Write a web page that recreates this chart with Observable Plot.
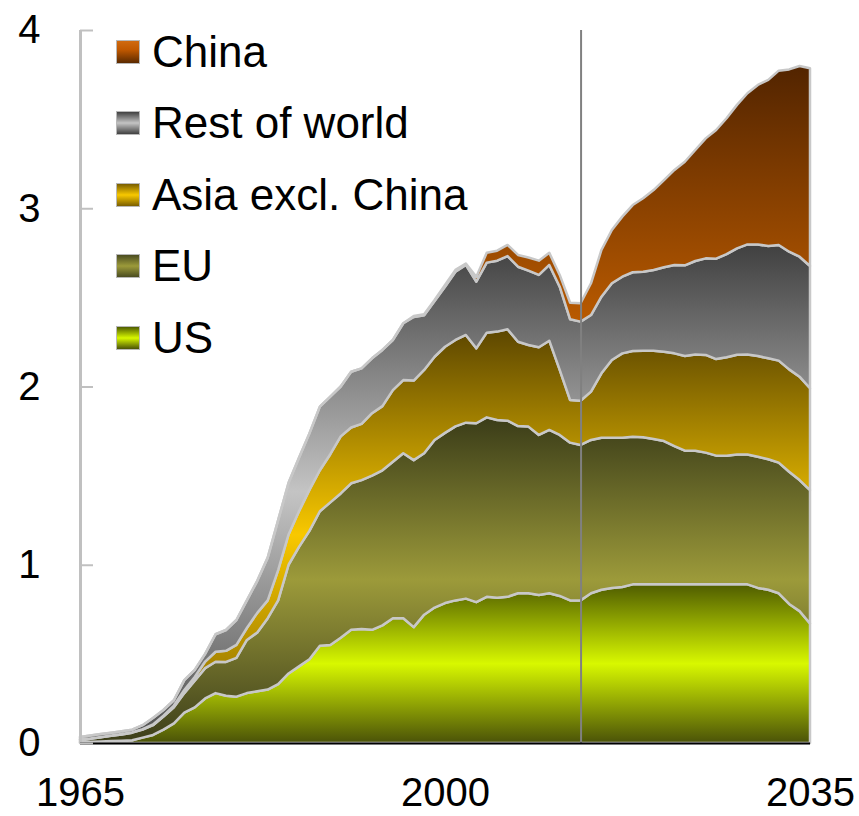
<!DOCTYPE html>
<html>
<head>
<meta charset="utf-8">
<script src="https://cdn.jsdelivr.net/npm/d3@7"></script>
<script src="https://cdn.jsdelivr.net/npm/@observablehq/plot@0.6"></script>
<style>
  html, body { margin: 0; padding: 0; background: #fff; }
  #wrap { position: relative; width: 859px; height: 816px; font-family: "Liberation Sans", Arial, sans-serif; }
  #legend { position: absolute; left: 116px; top: 16px; }
  .item { display: flex; align-items: center; height: 71.5px; font-size: 44px; color: #000; }
  .sw { width: 22px; height: 22px; border: 1px solid #b8b8b8; margin-right: 12px; flex: none; }
</style>
</head>
<body>
<div id="wrap"><div id="legend"></div></div>
<script>
// ---- data ----
const years = d3.range(1965, 2036);
const seriesNames = ["US", "EU", "Asia excl. China", "Rest of world", "China"];
const usValues = [
  0.005, 0.007, 0.009, 0.011, 0.013,
  0.015, 0.03, 0.045, 0.075, 0.11,
  0.17, 0.20, 0.25, 0.28, 0.265,
  0.26, 0.28, 0.29, 0.30, 0.33,
  0.39, 0.43, 0.47, 0.545, 0.55,
  0.59, 0.635, 0.64, 0.635, 0.66,
  0.70, 0.70, 0.65, 0.72, 0.76,
  0.785, 0.80, 0.81, 0.79, 0.82,
  0.815, 0.82, 0.84, 0.84, 0.83,
  0.84, 0.825, 0.80, 0.80, 0.84,
  0.86, 0.87, 0.875, 0.89, 0.89,
  0.89, 0.89, 0.89, 0.89, 0.89,
  0.89, 0.89, 0.89, 0.89, 0.89,
  0.87, 0.86, 0.84, 0.78, 0.74,
  0.67
];
const euValues = [
  0.012, 0.017, 0.023, 0.029, 0.035,
  0.043, 0.045, 0.055, 0.073, 0.09,
  0.11, 0.15, 0.17, 0.176, 0.19,
  0.218, 0.298, 0.33, 0.40, 0.47,
  0.61, 0.67, 0.72, 0.755, 0.80,
  0.81, 0.822, 0.835, 0.865, 0.87,
  0.878, 0.926, 0.937, 0.906, 0.94,
  0.955, 0.976, 0.987, 1.004, 1.007,
  0.997, 0.988, 0.938, 0.935, 0.898,
  0.916, 0.903, 0.885, 0.872, 0.86,
  0.853, 0.843, 0.838, 0.828, 0.825,
  0.815, 0.804, 0.776, 0.75, 0.75,
  0.739, 0.722, 0.722, 0.729, 0.729,
  0.736, 0.732, 0.733, 0.742, 0.735,
  0.749
];
const asiaValues = [
  0.002, 0.002, 0.002, 0.002, 0.002,
  0.003, 0.003, 0.004, 0.005, 0.01,
  0.017, 0.02, 0.037, 0.056, 0.062,
  0.072, 0.067, 0.11, 0.10, 0.17,
  0.17, 0.20, 0.23, 0.23, 0.27,
  0.32, 0.313, 0.315, 0.35, 0.36,
  0.402, 0.41, 0.446, 0.467, 0.467,
  0.483, 0.485, 0.492, 0.42, 0.475,
  0.496, 0.513, 0.473, 0.458, 0.492,
  0.501, 0.365, 0.239, 0.248, 0.271,
  0.361, 0.436, 0.473, 0.481, 0.486,
  0.496, 0.501, 0.52, 0.531, 0.54,
  0.548, 0.542, 0.552, 0.559, 0.561,
  0.565, 0.566, 0.572, 0.574, 0.58,
  0.571
];
const rowValues = [
  0.015, 0.016, 0.016, 0.016, 0.016,
  0.014, 0.022, 0.036, 0.032, 0.03,
  0.056, 0.04, 0.043, 0.098, 0.117,
  0.14, 0.155, 0.18, 0.24, 0.28,
  0.29, 0.30, 0.317, 0.357, 0.323,
  0.28, 0.313, 0.312, 0.308, 0.315,
  0.281, 0.319, 0.357, 0.307, 0.313,
  0.337, 0.383, 0.393, 0.374, 0.393,
  0.398, 0.411, 0.421, 0.417, 0.406,
  0.425, 0.467, 0.453, 0.444, 0.43,
  0.43, 0.43, 0.43, 0.442, 0.443,
  0.453, 0.474, 0.496, 0.509, 0.524,
  0.542, 0.563, 0.579, 0.597, 0.617,
  0.626, 0.63, 0.649, 0.66, 0.673,
  0.686
];
const chinaValues = [
  0, 0, 0, 0, 0,
  0, 0, 0, 0, 0,
  0, 0, 0, 0, 0,
  0, 0, 0, 0, 0,
  0, 0, 0, 0, 0,
  0, 0, 0, 0, 0,
  0, 0, 0.006, 0.005, 0.005,
  0.01, 0.01, 0.008, 0.027, 0.055,
  0.056, 0.062, 0.066, 0.074, 0.08,
  0.068, 0.066, 0.093, 0.103, 0.178,
  0.262, 0.299, 0.337, 0.377, 0.412,
  0.448, 0.489, 0.533, 0.581, 0.623,
  0.673, 0.722, 0.762, 0.805, 0.848,
  0.895, 0.932, 0.978, 1.023, 1.07,
  1.109
];
const forecastStart = 2013;
const xTicks = [1965, 2000, 2035];
const yTicks = [0, 1, 2, 3, 4];

// ---- styles ----
const gradientIds = ["gUS", "gEU", "gAsia", "gRoW", "gChina"];
const gradientStops = [
  [[0, "#4f5c00"], [0.5, "#d8f800"], [1, "#4a5208"]],
  [[0, "#3a3c18"], [0.5, "#9c9a3a"], [1, "#3c3e1a"]],
  [[0, "#5c4600"], [0.5, "#f8c800"], [1, "#7a5e00"]],
  [[0, "#404040"], [0.5, "#c4c4c4"], [1, "#505050"]],
  [[0, "#522400"], [0.45, "#cc6400"], [1, "#6a3000"]]
];
const legendSwatch = [
  "linear-gradient(to bottom, #4f5c00, #d8f800 50%, #4a5208)",
  "linear-gradient(to bottom, #4a4c20, #9c9a3a 50%, #4a4c20)",
  "linear-gradient(to bottom, #7a5e00, #f8c800 50%, #7a5e00)",
  "linear-gradient(to bottom, #404040, #c4c4c4 50%, #404040)",
  "linear-gradient(to bottom, #d06a10, #c05800 40%, #5a2a00)"
];

const seriesValues = [usValues, euValues, asiaValues, rowValues, chinaValues];
const table = [];
seriesNames.forEach((name, i) => years.forEach((year, j) => table.push({year, series: name, value: seriesValues[i][j]})));

const plot = Plot.plot({
  width: 859,
  height: 816,
  marginLeft: 80,
  marginRight: 49,
  marginTop: 30,
  marginBottom: 73,
  x: {domain: [1965, 2035], label: null},
  y: {domain: [0, 4], label: null},
  color: {domain: seriesNames, range: gradientIds.map(id => `url(#${id})`)},
  style: {fontFamily: "'Liberation Sans', Arial, sans-serif", background: "#fff", color: "#000"},
  marks: [
    Plot.areaY(table, Plot.stackY({
      x: "year", y: "value", z: "series", fill: "series",
      stroke: "#c8c8c8", strokeWidth: 2.5, strokeLinejoin: "round"
    })),
    Plot.ruleX([forecastStart], {stroke: "#808080", strokeWidth: 2}),
    Plot.ruleX([years[0]], {stroke: "#c0c0c0", strokeWidth: 3}),
    Plot.ruleY([0], {stroke: "#000", strokeWidth: 2}),
    Plot.axisY({ticks: yTicks, label: null, tickSize: 13, dx: 13, tickPadding: 40, stroke: "#c0c0c0", strokeWidth: 2, fill: "#000", fontSize: 40, tickFormat: d => String(d)}),
    Plot.axisX({ticks: xTicks, label: null, tickSize: 0, tickPadding: 34, fill: "#000", fontSize: 40, tickFormat: d => String(d)})
  ]
});

const defs = d3.select(plot).insert("defs", ":first-child");
gradientIds.forEach((id, i) => {
  const lg = defs.append("linearGradient").attr("id", id).attr("x1", 0).attr("y1", 0).attr("x2", 0).attr("y2", 1);
  gradientStops[i].forEach(([o, c]) => lg.append("stop").attr("offset", o).attr("stop-color", c));
});

const wrap = document.getElementById("wrap");
wrap.insertBefore(plot, wrap.firstChild);

const legend = d3.select("#legend");
seriesNames.map((n, i) => [n, i]).reverse().forEach(([n, i]) => {
  const item = legend.append("div").attr("class", "item");
  item.append("div").attr("class", "sw").style("background", legendSwatch[i]);
  item.append("span").text(n);
});
</script>
</body>
</html>
